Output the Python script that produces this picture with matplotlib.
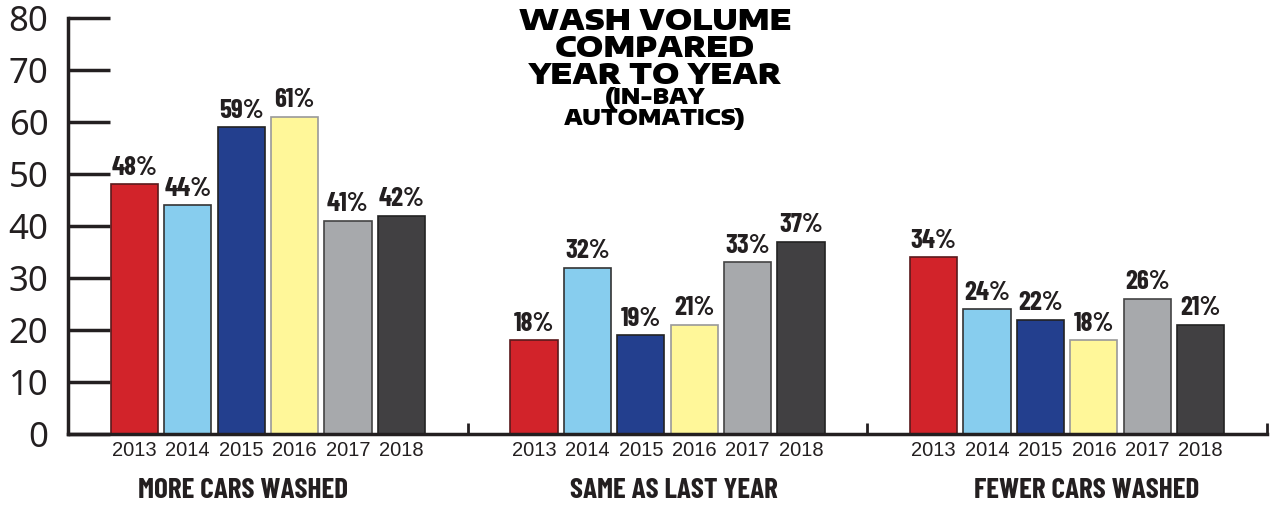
import matplotlib as mpl
mpl.use('Agg')
import matplotlib.pyplot as plt
import numpy as np

# data
years = ['2013', '2014', '2015', '2016', '2017', '2018']
groups = ['MORE CARS WASHED', 'SAME AS LAST YEAR', 'FEWER CARS WASHED']
more_cars = [48, 44, 59, 61, 41, 42]
same_cars = [18, 32, 19, 21, 33, 37]
fewer_cars = [34, 24, 22, 18, 26, 21]
title_lines = ['WASH VOLUME', 'COMPARED', 'YEAR TO YEAR', '(IN-BAY', 'AUTOMATICS)']

colors = ['#d2232a', '#87cdee', '#233f8e', '#fff799', '#a7a9ac', '#414042']
edges = ['#5a1a1c', '#333333', '#222222', '#999999', '#444444', '#222222']
ink = '#231f20'

narrow_font = ['Barlow Condensed', 'Roboto Condensed', 'DejaVu Sans']
title_font = ['Encode Sans Expanded', 'DejaVu Sans']
tick_font = ['Noto Sans', 'DejaVu Sans']
year_font = ['Liberation Sans', 'DejaVu Sans']

fig = plt.figure(figsize=(12.72, 5.08), dpi=100)
ax = fig.add_axes([68 / 1272, 1 - 434 / 508, 1199 / 1272, 416 / 508])

step = 0.1336
width = 0.118
offsets = (np.arange(6) - 2.5) * step

for g, vals in enumerate([more_cars, same_cars, fewer_cars]):
    xs = g + 0.5 + offsets
    ax.bar(xs, vals, width=width, color=colors, edgecolor=edges, linewidth=1.2, zorder=2)
    for x, v in zip(xs, vals):
        ax.text(x, v + 0.9, f'{v}%', ha='center', va='bottom', fontsize=19.5,
                fontweight='bold', family=narrow_font, color=ink)

ax.set_xlim(0, 3)
ax.set_ylim(0, 80)

# axes look
for side in ['top', 'right']:
    ax.spines[side].set_visible(False)
for side in ['left', 'bottom']:
    ax.spines[side].set_linewidth(2.5)
    ax.spines[side].set_color(ink)

yt = list(range(0, 81, 10))
ax.set_yticks(yt)
ax.set_yticklabels([str(t) for t in yt], fontfamily=tick_font, fontsize=25, color=ink)
ax.tick_params(axis='y', direction='in', length=30, width=2.5, color=ink, pad=14)

# group separators as major ticks, years as minor tick labels
ax.set_xticks([1, 2, 3])
ax.set_xticklabels([])
ax.tick_params(axis='x', which='major', direction='in', length=8, width=2, color=ink)
ax.set_xticks(np.concatenate([g + 0.5 + offsets for g in range(3)]), minor=True)
ax.set_xticklabels(years * 3, minor=True, fontfamily=year_font, fontsize=14.5, color=ink)
ax.tick_params(axis='x', which='minor', length=0, pad=5)

# group names under the years
group_x = [0.439, 1.516, 2.549]
for gx, name in zip(group_x, groups):
    ax.text(gx, -0.137, name, transform=ax.get_xaxis_transform(), ha='center',
            va='center', fontsize=21, fontweight='bold', family=narrow_font, color=ink)

# title block
title_y = [22, 48.5, 75, 98, 118.5]
title_size = [21, 21, 21, 15.5, 15.5]
for txt, y, s in zip(title_lines, title_y, title_size):
    fig.text(655 / 1272, 1 - y / 508, txt, ha='center', va='center', fontsize=s,
             fontweight='black', family=title_font, color='black')

fig.savefig('out.png', dpi=100)
